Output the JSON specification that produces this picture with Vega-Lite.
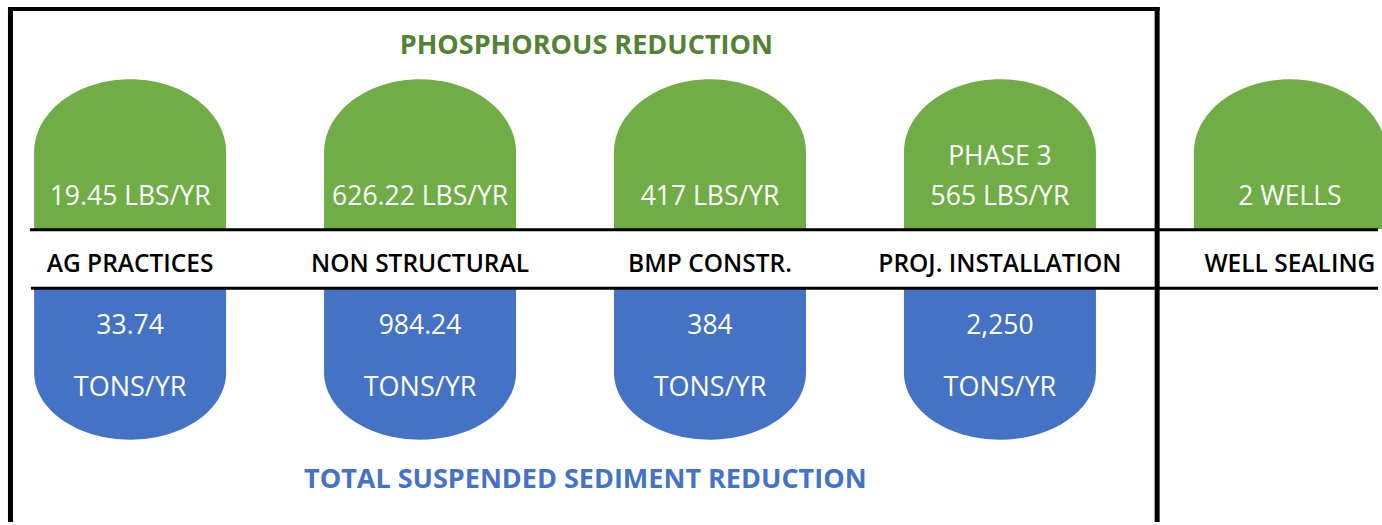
{
  "$schema": "https://vega.github.io/schema/vega-lite/v6.json",
  "width": 1382,
  "height": 525,
  "padding": 0,
  "autosize": {"type": "fit", "contains": "padding"},
  "background": "white",
  "config": {"view": {"stroke": null}, "text": {"font": "Open Sans"}},
  "datasets": {
    "practices": [
      {"practice": "AG PRACTICES", "note": null, "phos": "19.45 LBS/YR", "sed_value": "33.74", "sed_unit": "TONS/YR"},
      {"practice": "NON STRUCTURAL", "note": null, "phos": "626.22 LBS/YR", "sed_value": "984.24", "sed_unit": "TONS/YR"},
      {"practice": "BMP CONSTR.", "note": null, "phos": "417 LBS/YR", "sed_value": "384", "sed_unit": "TONS/YR"},
      {"practice": "PROJ. INSTALLATION", "note": "PHASE 3", "phos": "565 LBS/YR", "sed_value": "2,250", "sed_unit": "TONS/YR"},
      {"practice": "WELL SEALING", "note": null, "phos": "2 WELLS", "sed_value": null, "sed_unit": null}
    ],
    "titles": [
      {"section": "phosphorus", "title": "PHOSPHOROUS REDUCTION"},
      {"section": "sediment", "title": "TOTAL SUSPENDED SEDIMENT REDUCTION"}
    ],
    "frame": [{"part": "frame"}]
  },
  "resolve": {"scale": {"x": "independent"}},
  "layer": [
    {
      "data": {"name": "practices"},
      "layer": [
        {
          "mark": {"type": "point", "filled": true, "opacity": 1, "strokeWidth": 0, "size": 36864,
                   "shape": "M -1 0.78 L -1 -0.02 A 1 0.76 0 0 1 1 -0.02 L 1 0.78 Z", "color": "#70AD47"},
          "encoding": {
            "x": {"field": "practice", "type": "nominal", "sort": null, "axis": null,
                  "scale": {"type": "band", "range": [34, 1386], "paddingInner": 0.337, "paddingOuter": 0}},
            "y": {"datum": 155, "type": "quantitative", "axis": null, "scale": {"domain": [0, 525], "reverse": true, "nice": false, "zero": false}}
          }
        },
        {
          "transform": [{"filter": "isValid(datum.sed_value)"}],
          "mark": {"type": "point", "filled": true, "opacity": 1, "strokeWidth": 0, "size": 36864,
                   "shape": "M -1 -0.79 L 1 -0.79 L 1 0.09 A 1 0.7 0 0 1 -1 0.09 Z", "color": "#4472C4"},
          "encoding": {
            "x": {"field": "practice", "type": "nominal", "sort": null, "axis": null,
                  "scale": {"type": "band", "range": [34, 1386], "paddingInner": 0.337, "paddingOuter": 0}},
            "y": {"datum": 366, "type": "quantitative", "axis": null, "scale": {"domain": [0, 525], "reverse": true, "nice": false, "zero": false}}
          }
        },
        {
          "transform": [{"filter": "isValid(datum.note)"}],
          "mark": {"type": "text", "baseline": "middle", "align": "center", "fontSize": 26.5, "color": "white"},
          "encoding": {
            "x": {"field": "practice", "type": "nominal", "sort": null, "axis": null,
                  "scale": {"type": "band", "range": [34, 1386], "paddingInner": 0.337, "paddingOuter": 0}},
            "y": {"datum": 158, "type": "quantitative", "axis": null, "scale": {"domain": [0, 525], "reverse": true, "nice": false, "zero": false}},
            "text": {"field": "note", "type": "nominal"}
          }
        },
        {
          "mark": {"type": "text", "baseline": "middle", "align": "center", "fontSize": 26.5, "color": "white"},
          "encoding": {
            "x": {"field": "practice", "type": "nominal", "sort": null, "axis": null,
                  "scale": {"type": "band", "range": [34, 1386], "paddingInner": 0.337, "paddingOuter": 0}},
            "y": {"datum": 198, "type": "quantitative", "axis": null, "scale": {"domain": [0, 525], "reverse": true, "nice": false, "zero": false}},
            "text": {"field": "phos", "type": "nominal"}
          }
        },
        {
          "transform": [{"filter": "isValid(datum.sed_value)"}],
          "mark": {"type": "text", "baseline": "middle", "align": "center", "fontSize": 26.5, "color": "white"},
          "encoding": {
            "x": {"field": "practice", "type": "nominal", "sort": null, "axis": null,
                  "scale": {"type": "band", "range": [34, 1386], "paddingInner": 0.337, "paddingOuter": 0}},
            "y": {"datum": 328, "type": "quantitative", "axis": null, "scale": {"domain": [0, 525], "reverse": true, "nice": false, "zero": false}},
            "text": {"field": "sed_value", "type": "nominal"}
          }
        },
        {
          "transform": [{"filter": "isValid(datum.sed_unit)"}],
          "mark": {"type": "text", "baseline": "middle", "align": "center", "fontSize": 27, "color": "white"},
          "encoding": {
            "x": {"field": "practice", "type": "nominal", "sort": null, "axis": null,
                  "scale": {"type": "band", "range": [34, 1386], "paddingInner": 0.337, "paddingOuter": 0}},
            "y": {"datum": 390.5, "type": "quantitative", "axis": null, "scale": {"domain": [0, 525], "reverse": true, "nice": false, "zero": false}},
            "text": {"field": "sed_unit", "type": "nominal"}
          }
        },
        {
          "mark": {"type": "text", "baseline": "middle", "align": "center", "fontSize": 24.5, "fontWeight": 600, "color": "black"},
          "encoding": {
            "x": {"field": "practice", "type": "nominal", "sort": null, "axis": null,
                  "scale": {"type": "band", "range": [34, 1386], "paddingInner": 0.337, "paddingOuter": 0}},
            "y": {"datum": 267, "type": "quantitative", "axis": null, "scale": {"domain": [0, 525], "reverse": true, "nice": false, "zero": false}},
            "text": {"field": "practice", "type": "nominal"}
          }
        }
      ]
    },
    {
      "layer": [
        {
          "data": {"name": "titles"},
          "transform": [{"filter": "datum.section === 'phosphorus'"}],
          "mark": {"type": "text", "baseline": "middle", "align": "center", "fontSize": 27, "fontWeight": "bold", "color": "#548235"},
          "encoding": {
            "x": {"datum": 588, "type": "quantitative", "axis": null, "scale": {"domain": [0, 1382], "nice": false, "zero": false}},
            "y": {"datum": 46, "type": "quantitative", "axis": null, "scale": {"domain": [0, 525], "reverse": true, "nice": false, "zero": false}},
            "text": {"field": "title", "type": "nominal"}
          }
        },
        {
          "data": {"name": "titles"},
          "transform": [{"filter": "datum.section === 'sediment'"}],
          "mark": {"type": "text", "baseline": "middle", "align": "center", "fontSize": 27, "fontWeight": "bold", "color": "#4472C4"},
          "encoding": {
            "x": {"datum": 587, "type": "quantitative", "axis": null, "scale": {"domain": [0, 1382], "nice": false, "zero": false}},
            "y": {"datum": 483, "type": "quantitative", "axis": null, "scale": {"domain": [0, 525], "reverse": true, "nice": false, "zero": false}},
            "text": {"field": "title", "type": "nominal"}
          }
        },
        {
          "data": {"name": "frame"},
          "mark": {"type": "rule", "color": "black", "strokeWidth": 4},
          "encoding": {
            "x": {"datum": 8, "type": "quantitative", "axis": null, "scale": {"domain": [0, 1382], "nice": false, "zero": false}},
            "x2": {"datum": 1163},
            "y": {"datum": 9, "type": "quantitative", "axis": null, "scale": {"domain": [0, 525], "reverse": true, "nice": false, "zero": false}}
          }
        },
        {
          "data": {"name": "frame"},
          "mark": {"type": "rule", "color": "black", "strokeWidth": 5},
          "encoding": {
            "x": {"datum": 10.5, "type": "quantitative", "axis": null, "scale": {"domain": [0, 1382], "nice": false, "zero": false}},
            "y": {"datum": 7, "type": "quantitative", "axis": null, "scale": {"domain": [0, 525], "reverse": true, "nice": false, "zero": false}},
            "y2": {"datum": 525}
          }
        },
        {
          "data": {"name": "frame"},
          "mark": {"type": "rule", "color": "black", "strokeWidth": 5},
          "encoding": {
            "x": {"datum": 1160.5, "type": "quantitative", "axis": null, "scale": {"domain": [0, 1382], "nice": false, "zero": false}},
            "y": {"datum": 7, "type": "quantitative", "axis": null, "scale": {"domain": [0, 525], "reverse": true, "nice": false, "zero": false}},
            "y2": {"datum": 525}
          }
        },
        {
          "data": {"name": "frame"},
          "mark": {"type": "rule", "color": "black", "strokeWidth": 3},
          "encoding": {
            "x": {"datum": 30, "type": "quantitative", "axis": null, "scale": {"domain": [0, 1382], "nice": false, "zero": false}},
            "x2": {"datum": 1382},
            "y": {"datum": 231, "type": "quantitative", "axis": null, "scale": {"domain": [0, 525], "reverse": true, "nice": false, "zero": false}}
          }
        },
        {
          "data": {"name": "frame"},
          "mark": {"type": "rule", "color": "black", "strokeWidth": 3},
          "encoding": {
            "x": {"datum": 31, "type": "quantitative", "axis": null, "scale": {"domain": [0, 1382], "nice": false, "zero": false}},
            "x2": {"datum": 1382},
            "y": {"datum": 290, "type": "quantitative", "axis": null, "scale": {"domain": [0, 525], "reverse": true, "nice": false, "zero": false}}
          }
        }
      ]
    }
  ]
}
